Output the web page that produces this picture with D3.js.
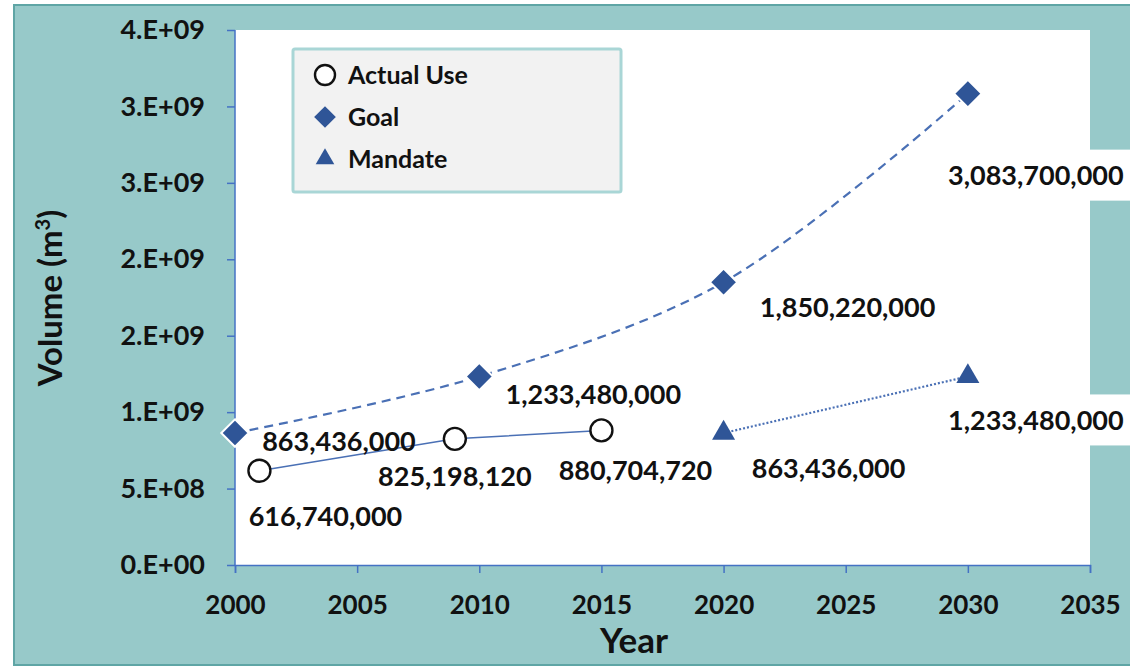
<!DOCTYPE html>
<html>
<head>
<meta charset="utf-8">
<script src="https://cdn.jsdelivr.net/npm/d3@7"></script>
<style>
  body { margin: 0; background: #fff; }
  svg text { font-family: Lato, "Open Sans", sans-serif; font-weight: bold; fill: #111; }
</style>
</head>
<body>
<svg id="chart" width="1130" height="670"></svg>
<script>
// chart values
var actualYears = [2001, 2009, 2015];
var actualValues = [616740000, 825198120, 880704720];
var goalYears = [2000, 2010, 2020, 2030];
var goalValues = [863436000, 1233480000, 1850220000, 3083700000];
var mandateYears = [2020, 2030];
var mandateValues = [863436000, 1233480000];
var yTicks = [0, 5e8, 1e9, 1.5e9, 2e9, 2.5e9, 3e9, 3.5e9];
var xTicks = [2000, 2005, 2010, 2015, 2020, 2025, 2030, 2035];
var legendNames = ["Actual Use", "Goal", "Mandate"];

var blue = "#2F5597";
var lineBlue = "#4A70B5";
var teal = "#97C9C9";

var svg = d3.select("#chart");
var plotLeft = 235, plotRight = 1090, plotTop = 30, plotBottom = 565;

var x = d3.scaleLinear().domain([2000, 2035]).range([plotLeft, plotRight]);
var y = d3.scaleLinear().domain([0, 3.5e9]).range([plotBottom, plotTop]);

// frame
svg.append("rect")
  .attr("x", 14).attr("y", 5).attr("width", 1130).attr("height", 660)
  .style("fill", teal).style("stroke", "#5FA5A5").style("stroke-width", 2);

svg.append("rect")
  .attr("x", plotLeft).attr("y", plotTop).attr("width", plotRight - plotLeft).attr("height", plotBottom - plotTop)
  .style("fill", "#fff");

// excel style tick format, 0 decimals
function sciLabel(v){
  if(v == 0) return "0.E+00";
  var e = Math.floor(Math.log10(v));
  var m = Math.round(v / Math.pow(10, e) + 1e-9);
  if(m >= 10){ m = 1; e = e + 1; }
  return m + ".E+" + (e < 10 ? "0" + e : e);
}

var yAxis = svg.append("g")
  .attr("transform", "translate(" + plotLeft + ",0)")
  .call(d3.axisLeft(y).tickValues(yTicks).tickFormat(sciLabel).tickSize(8).tickPadding(22));
var xAxis = svg.append("g")
  .attr("transform", "translate(0," + plotBottom + ")")
  .call(d3.axisBottom(x).tickValues(xTicks).tickFormat(d3.format("d")).tickSize(8).tickSizeOuter(8).tickPadding(23));
yAxis.selectAll("text").style("font-size", "27px");
xAxis.selectAll("text").style("font-size", "26px");
svg.selectAll(".domain, .tick line").style("stroke", "#4472C4").style("stroke-width", 1.5);
yAxis.select(".domain").attr("d", "M0," + plotTop + "V" + plotBottom);

// axis titles
svg.append("text")
  .attr("x", 634).attr("y", 653)
  .attr("text-anchor", "middle")
  .style("font-size", "35px")
  .text("Year");
var yt = svg.append("text")
  .attr("transform", "translate(62," + 298 + ") rotate(-90)")
  .attr("text-anchor", "middle")
  .style("font-size", "33px");
yt.append("tspan").text("Volume (m");
yt.append("tspan").attr("dy", -12).style("font-size", "20px").text("3");
yt.append("tspan").attr("dy", 12).text(")");

// lines
var goalData = goalYears.map(function(d, i){ return {x: d, y: goalValues[i]}; });
var actualData = actualYears.map(function(d, i){ return {x: d, y: actualValues[i]}; });
var mandateData = mandateYears.map(function(d, i){ return {x: d, y: mandateValues[i]}; });

var line = d3.line().x(function(d){ return x(d.x); }).y(function(d){ return y(d.y); });
var smooth = d3.line().curve(d3.curveCatmullRom.alpha(0.5))
  .x(function(d){ return x(d.x); }).y(function(d){ return y(d.y); });

svg.append("path").attr("d", smooth(goalData))
  .style("fill", "none").style("stroke", lineBlue).style("stroke-width", 2.2)
  .style("stroke-dasharray", "9,6");
svg.append("path").attr("d", line(actualData))
  .style("fill", "none").style("stroke", lineBlue).style("stroke-width", 1.5);
svg.append("path").attr("d", line(mandateData))
  .style("fill", "none").style("stroke", lineBlue).style("stroke-width", 2.2)
  .style("stroke-dasharray", "2,2");

// markers
svg.selectAll(".goalPt").data(goalData).enter().append("path")
  .attr("class", "goalPt")
  .attr("transform", function(d){ return "translate(" + x(d.x) + "," + y(d.y) + ")"; })
  .attr("d", d3.symbol().type(d3.symbolDiamond2).size(480))
  .style("fill", blue).style("stroke", "#fff").style("stroke-width", 2);
svg.selectAll(".actualPt").data(actualData).enter().append("circle")
  .attr("class", "actualPt")
  .attr("cx", function(d){ return x(d.x); }).attr("cy", function(d){ return y(d.y); })
  .attr("r", 11)
  .style("fill", "#fff").style("stroke", "#111").style("stroke-width", 2.4);
svg.selectAll(".mandatePt").data(mandateData).enter().append("path")
  .attr("class", "mandatePt")
  .attr("transform", function(d){ return "translate(" + x(d.x) + "," + y(d.y) + ")"; })
  .attr("d", d3.symbol().type(d3.symbolTriangle).size(230))
  .style("fill", blue);

// data labels, offsets from each point
var fmt = d3.format(",");
var goalOffsets = [[104, 9], [114, 18], [124, 25], [68, 82]];
var actualOffsets = [[66, 46], [0, 38], [34, 40]];
var mandateOffsets = [[105, 36], [68, 44]];

function addLabels(data, offsets, boxed){
  data.forEach(function(d, i){
    var cx = x(d.x) + offsets[i][0], cy = y(d.y) + offsets[i][1];
    if(boxed && boxed[i]){
      svg.append("rect")
        .attr("x", cx - 97).attr("y", cy - 26).attr("width", 200).attr("height", 51)
        .style("fill", "#fff");
    }
    svg.append("text")
      .attr("x", cx).attr("y", cy)
      .attr("text-anchor", "middle").attr("dy", "0.35em")
      .style("font-size", "27px")
      .text(fmt(d.y));
  });
}
addLabels(goalData, goalOffsets, [false, false, false, true]);
addLabels(actualData, actualOffsets);
addLabels(mandateData, mandateOffsets, [false, true]);

// legend
var lg = svg.append("g").attr("transform", "translate(293,49)");
lg.append("rect").attr("width", 328).attr("height", 143)
  .style("fill", "#F2F2F2").style("stroke", "#A9D6D6").style("stroke-width", 3).attr("rx", 2);
legendNames.forEach(function(name, i){
  var gy = 26 + i * 42;
  if(i == 0){
    lg.append("circle").attr("cx", 32).attr("cy", gy).attr("r", 10)
      .style("fill", "#fff").style("stroke", "#111").style("stroke-width", 2.4);
  } else {
    lg.append("path").attr("transform", "translate(32," + gy + ")")
      .attr("d", d3.symbol().type(i == 1 ? d3.symbolDiamond2 : d3.symbolTriangle).size(i == 1 ? 300 : 150))
      .style("fill", blue);
  }
  lg.append("text").attr("x", 55).attr("y", gy).attr("dy", "0.35em")
    .style("font-size", "25px").text(name);
});
</script>
</body>
</html>
